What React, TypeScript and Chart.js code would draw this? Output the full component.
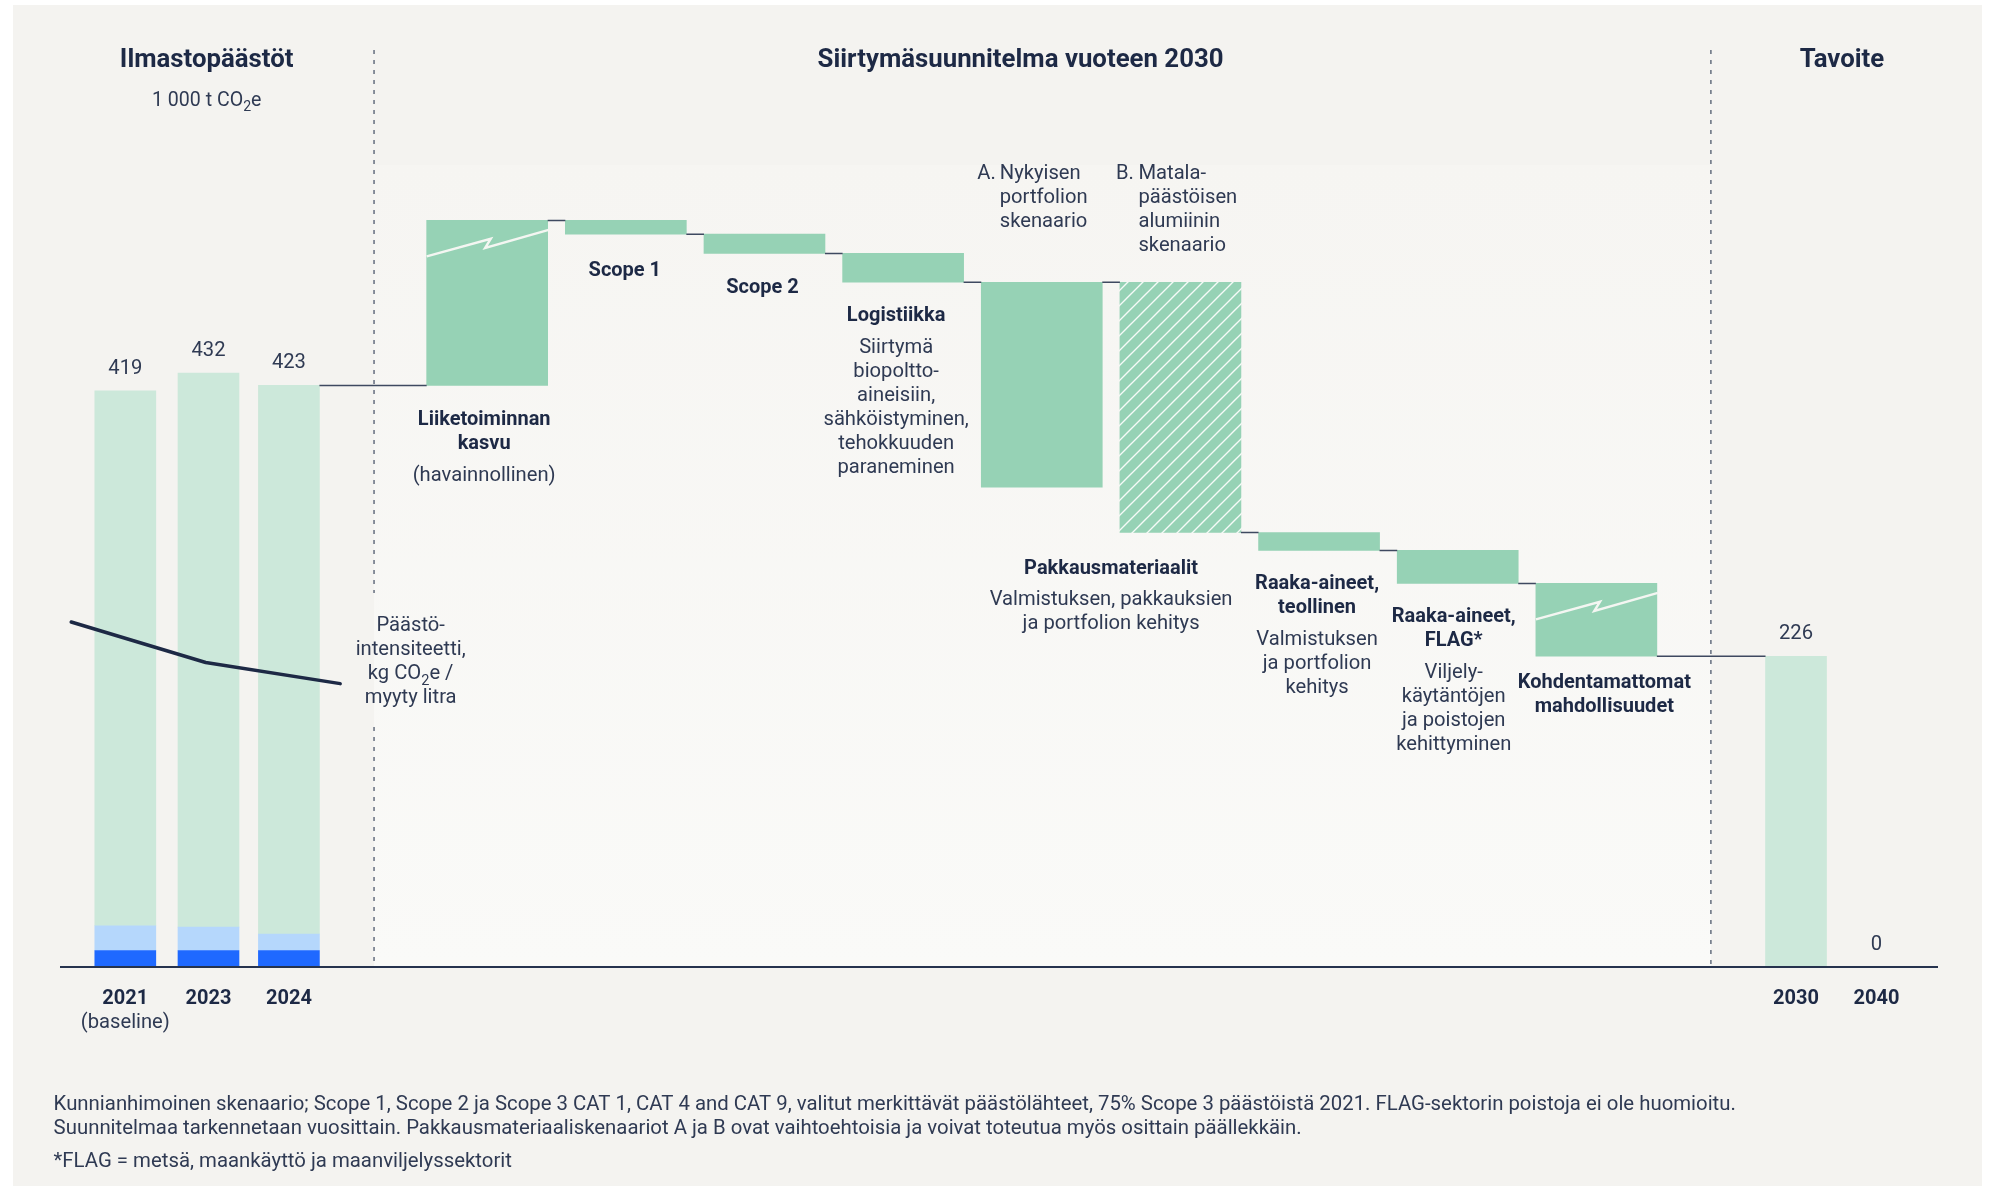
import React, { useEffect, useRef } from 'react';
import { Chart, registerables } from 'chart.js';

Chart.register(...registerables);

// ---------------- data ----------------
const historyYears = ['2021', '2023', '2024'];
const historyNotes = ['(baseline)', '', ''];
const historyScope1 = [12, 12, 12];
const historyScope2 = [18, 17, 12];
const historyScope3 = [389, 403, 399];
const intensityValues = [0.196, 0.173, 0.161];

const stepStart = 423;
const stepDeltas = [120, -10, -14, -21, -149, -182, -13, -24, -53];
const stepIsAlternative = [false, false, false, false, true, false, false, false, false];
const stepIsHatched = [false, false, false, false, false, true, false, false, false];
const stepIsBroken = [true, false, false, false, false, false, false, false, true];
const stepTitles = [
  ['Liiketoiminnan', 'kasvu'],
  ['Scope 1'],
  ['Scope 2'],
  ['Logistiikka'],
  [],
  [],
  ['Raaka-aineet,', 'teollinen'],
  ['Raaka-aineet,', 'FLAG*'],
  ['Kohdentamattomat', 'mahdollisuudet'],
];
const stepNotes = [
  ['(havainnollinen)'],
  [],
  [],
  ['Siirtymä', 'biopoltto-', 'aineisiin,', 'sähköistyminen,', 'tehokkuuden', 'paraneminen'],
  [],
  [],
  ['Valmistuksen', 'ja portfolion', 'kehitys'],
  ['Viljely-', 'käytäntöjen', 'ja poistojen', 'kehittyminen'],
  [],
];
const scenarioMarkers = ['A.', 'B.'];
const scenarioTexts = [
  ['Nykyisen', 'portfolion', 'skenaario'],
  ['Matala-', 'päästöisen', 'alumiinin', 'skenaario'],
];
const packagingTitle = ['Pakkausmateriaalit'];
const packagingNotes = ['Valmistuksen, pakkauksien', 'ja portfolion kehitys'];

const targetYears = ['2030', '2040'];
const targetValues = [226, 0];

const sectionTitles = ['Ilmastopäästöt', 'Siirtymäsuunnitelma vuoteen 2030', 'Tavoite'];
const unitLabel = ['1 000 t CO', '2', 'e'];
const intensityLabel = [['Päästö-'], ['intensiteetti,'], ['kg CO', '2', 'e /'], ['myyty litra']];
const footnotes = [
  'Kunnianhimoinen skenaario; Scope 1, Scope 2 ja Scope 3 CAT 1, CAT 4 and CAT 9, valitut merkittävät päästölähteet, 75% Scope 3 päästöistä 2021. FLAG-sektorin poistoja ei ole huomioitu.',
  'Suunnitelmaa tarkennetaan vuosittain. Pakkausmateriaaliskenaariot A ja B ovat vaihtoehtoisia ja voivat toteutua myös osittain päällekkäin.',
  '*FLAG = metsä, maankäyttö ja maanviljelyssektorit',
];

// ---------------- layout (scale units / px) ----------------
const X_MIN = -0.081;
const X_MAX = 13.464;
const Y_MAX = 640;
const INTENSITY_MAX = 0.5;
const historyX = [0.39, 0.99, 1.57];
const intensityX = [0, 0.97, 1.94];
const stepX = [3, 4, 5, 6, 7, 8, 9, 10, 11];
const targetX = [12.44, 13.02];
const dividerX = [2.184, 11.826];
const sectionTitleX = [0.977, 6.847, 12.771];
const intensityLabelX = 2.448;
const stepLabelDx = [-3, -1, -2, -7, 0, 0, -2, -4, 8];
const stepLabelDy = [40, 42, 40, 38.5, 0, 0, 38.5, 39, 32];

// ---------------- styles ----------------
const PANEL = '#f4f3f0';
const GREEN = '#96d2b5';
const LIGHT_GREEN = '#cce8da';
const LIGHT_BLUE = '#b5d7fc';
const BLUE = '#1f69ff';
const NAVY = '#1d2945';
const TEXT = '#2f3a53';
const FAMILY = 'Roboto, "Noto Sans", "DejaVu Sans", sans-serif';

function stepRanges() {
  let run = stepStart;
  return stepDeltas.map((d, i) => {
    const r = { from: run, to: run + d };
    if (!stepIsAlternative[i]) run += d;
    return r;
  });
}

function setFont(ctx: CanvasRenderingContext2D, weight: number, size: number) {
  ctx.font = `${weight} ${size.toFixed(2)}px ${FAMILY}`;
}
function fitSize(ctx: CanvasRenderingContext2D, text: string, weight: number, target: number) {
  setFont(ctx, weight, 20);
  return (20 * target) / ctx.measureText(text).width;
}
function drawText(
  ctx: CanvasRenderingContext2D,
  s: string,
  x: number,
  y: number,
  weight: number,
  size: number,
  color: string,
  align: CanvasTextAlign = 'center'
) {
  setFont(ctx, weight, size);
  ctx.fillStyle = color;
  ctx.textAlign = align;
  ctx.textBaseline = 'alphabetic';
  ctx.fillText(s, x, y);
}
function drawParts(
  ctx: CanvasRenderingContext2D,
  parts: string[],
  cx: number,
  baseline: number,
  weight: number,
  size: number,
  color: string
) {
  const sub = size * 0.72;
  const widths = parts.map((p, i) => {
    setFont(ctx, weight, i % 2 ? sub : size);
    return ctx.measureText(p).width;
  });
  const total = widths.reduce((a, b) => a + b, 0);
  let x = cx - total / 2;
  ctx.fillStyle = color;
  ctx.textAlign = 'left';
  ctx.textBaseline = 'alphabetic';
  parts.forEach((p, i) => {
    setFont(ctx, weight, i % 2 ? sub : size);
    ctx.fillText(p, x, baseline + (i % 2 ? size * 0.28 : 0));
    x += widths[i];
  });
}

function geo(el: any) {
  const p = el.getProps(['x', 'y', 'base', 'width'], true);
  return {
    cx: p.x,
    l: p.x - p.width / 2,
    r: p.x + p.width / 2,
    top: Math.min(p.y, p.base),
    bottom: Math.max(p.y, p.base),
  };
}

const decorPlugin = {
  id: 'decor',
  beforeDraw(chart: any) {
    const { ctx, scales } = chart;
    const xs = scales.x;
    const ys = scales.y;
    const y0 = ys.getPixelForValue(0);
    ctx.save();
    ctx.fillStyle = '#ffffff';
    ctx.fillRect(0, 0, chart.width, chart.height);
    ctx.fillStyle = PANEL;
    ctx.fillRect(13, 5, 1969, 1181);
    const d1 = xs.getPixelForValue(dividerX[0]);
    const d2 = xs.getPixelForValue(dividerX[1]);
    const g = ctx.createLinearGradient(0, 165, 0, y0);
    g.addColorStop(0, '#f6f5f2');
    g.addColorStop(1, '#fafaf8');
    ctx.fillStyle = g;
    ctx.fillRect(d1, 165, d2 - d1, y0 - 165);
    ctx.strokeStyle = '#646d7e';
    ctx.lineWidth = 1.5;
    ctx.setLineDash([4, 6]);
    ctx.beginPath();
    ctx.moveTo(d1, 50);
    ctx.lineTo(d1, 593);
    ctx.moveTo(d1, 727);
    ctx.lineTo(d1, y0);
    ctx.moveTo(d2, 50);
    ctx.lineTo(d2, y0);
    ctx.stroke();
    ctx.restore();
  },
  afterDatasetsDraw(chart: any) {
    const { ctx, scales, chartArea } = chart;
    const xs = scales.x;
    const ys = scales.y;
    const y0 = ys.getPixelForValue(0);
    const hist = chart.getDatasetMeta(3).data.map(geo);
    const steps = chart.getDatasetMeta(4).data.map(geo);
    const targets = chart.getDatasetMeta(5).data.map(geo);
    const ranges = stepRanges();
    ctx.save();

    // connectors
    const chain = [hist[hist.length - 1], ...steps, targets[0]];
    const levels = [stepStart, ...ranges.map((r, i) => (stepIsAlternative[i] ? r.from : r.to))];
    ctx.strokeStyle = '#3e4960';
    ctx.lineWidth = 1.5;
    ctx.beginPath();
    for (let i = 0; i < chain.length - 1; i++) {
      const ly = ys.getPixelForValue(levels[i]);
      ctx.moveTo(chain[i].r, ly);
      ctx.lineTo(chain[i + 1].l, ly);
    }
    ctx.stroke();

    // break symbols
    ctx.strokeStyle = '#f4f6f2';
    ctx.lineWidth = 2.5;
    ctx.lineJoin = 'miter';
    steps.forEach((b: any, i: number) => {
      if (!stepIsBroken[i]) return;
      ctx.beginPath();
      ctx.moveTo(b.l, b.top + 36);
      ctx.lineTo(b.l + 64, b.top + 18.5);
      ctx.lineTo(b.l + 58.5, b.top + 27.5);
      ctx.lineTo(b.r + 1, b.top + 9.5);
      ctx.stroke();
    });

    // axis
    ctx.strokeStyle = '#26334e';
    ctx.lineWidth = 2;
    ctx.beginPath();
    ctx.moveTo(chartArea.left, y0);
    ctx.lineTo(chartArea.right, y0);
    ctx.stroke();

    // font sizes calibrated on reference text widths
    const H = fitSize(ctx, sectionTitles[1], 700, 406);
    const B = fitSize(ctx, packagingTitle[0], 700, 174);
    const R = fitSize(ctx, packagingNotes[0], 400, 243);
    const F = fitSize(ctx, footnotes[0], 400, 1684);

    // section titles
    sectionTitles.forEach((t, i) => drawText(ctx, t, xs.getPixelForValue(sectionTitleX[i]), 66.7, 700, H, NAVY));
    drawParts(ctx, unitLabel, xs.getPixelForValue(sectionTitleX[0]), 106, 400, R * 0.97, TEXT);

    // history values & labels
    hist.forEach((b: any, i: number) => {
      const total = historyScope1[i] + historyScope2[i] + historyScope3[i];
      drawText(ctx, String(total), b.cx, b.top - 17, 400, R, TEXT);
      drawText(ctx, historyYears[i], b.cx, 1004.3, 700, B, NAVY);
      if (historyNotes[i]) drawText(ctx, historyNotes[i], b.cx, 1027.5, 400, R, TEXT);
    });
    targets.forEach((b: any, i: number) => {
      drawText(ctx, String(targetValues[i]), b.cx, b.top - 17, 400, R, TEXT);
      drawText(ctx, targetYears[i], b.cx, 1004.3, 700, B, NAVY);
    });

    // step labels
    steps.forEach((b: any, i: number) => {
      const titles = stepTitles[i];
      if (!titles.length) return;
      const cx = b.cx + stepLabelDx[i];
      let base = b.bottom + stepLabelDy[i];
      titles.forEach((t, k) => drawText(ctx, t, cx, base + k * 24, 700, B, NAVY));
      base += (titles.length - 1) * 24 + 32;
      stepNotes[i].forEach((t, k) => drawText(ctx, t, cx, base + k * 24, 400, R, TEXT));
    });

    // packaging (A/B) labels
    const altIdx = stepIsAlternative.indexOf(true);
    const A = steps[altIdx];
    const Bb = steps[altIdx + 1];
    const pcx = (A.cx + Bb.cx) / 2;
    const pBase = Bb.bottom + 41.3;
    packagingTitle.forEach((t, k) => drawText(ctx, t, pcx, pBase + k * 24, 700, B, NAVY));
    packagingNotes.forEach((t, k) => drawText(ctx, t, pcx, pBase + (packagingTitle.length - 1) * 24 + 31 + k * 24, 400, R, TEXT));
    [A, Bb].forEach((b: any, j: number) => {
      const top = b.top - 103;
      drawText(ctx, scenarioMarkers[j], b.l - 4, top, 400, R, TEXT, 'left');
      scenarioTexts[j].forEach((t, k) => drawText(ctx, t, b.l + 18.5, top + k * 24, 400, R, TEXT, 'left'));
    });

    // intensity label
    const ix = xs.getPixelForValue(intensityLabelX);
    intensityLabel.forEach((parts, k) => drawParts(ctx, parts, ix, 631 + k * 24, 400, R, TEXT));

    // footnotes
    drawText(ctx, footnotes[0], 53.6, 1110, 400, F, TEXT, 'left');
    drawText(ctx, footnotes[1], 53.6, 1134.3, 400, F, TEXT, 'left');
    drawText(ctx, footnotes[2], 53.6, 1166.7, 400, F, TEXT, 'left');

    ctx.restore();
  },
};

function makeHatch(ctx: CanvasRenderingContext2D) {
  const s = 15;
  const c = document.createElement('canvas');
  c.width = s;
  c.height = s;
  const g = c.getContext('2d') as CanvasRenderingContext2D;
  g.fillStyle = GREEN;
  g.fillRect(0, 0, s, s);
  g.strokeStyle = 'rgba(255,255,255,0.9)';
  g.lineWidth = 1.4;
  g.beginPath();
  g.moveTo(0, s);
  g.lineTo(s, 0);
  g.moveTo(-s / 2, s / 2);
  g.lineTo(s / 2, -s / 2);
  g.moveTo(s / 2, s * 1.5);
  g.lineTo(s * 1.5, s / 2);
  g.stroke();
  return ctx.createPattern(c, 'repeat') as CanvasPattern;
}

export default function App() {
  const ref = useRef<HTMLCanvasElement>(null);
  useEffect(() => {
    const canvas = ref.current as HTMLCanvasElement;
    const ctx = canvas.getContext('2d') as CanvasRenderingContext2D;
    const hatch = makeHatch(ctx);
    const ranges = stepRanges();
    const s12 = historyScope1.map((v, i) => v + historyScope2[i]);
    const totals = s12.map((v, i) => v + historyScope3[i]);
    const chart = new Chart(canvas, {
      type: 'bar',
      data: {
        datasets: [
          {
            type: 'line',
            label: 'Päästöintensiteetti',
            data: intensityX.map((xv, i) => ({ x: xv, y: intensityValues[i] })),
            yAxisID: 'y2',
            borderColor: NAVY,
            borderWidth: 3.5,
            pointRadius: 0,
            tension: 0,
            borderCapStyle: 'round',
            borderJoinStyle: 'round',
            order: -1,
          } as any,
          {
            label: 'Scope 1',
            data: historyX.map((xv, i) => ({ x: xv, y: [0, historyScope1[i]] })),
            backgroundColor: BLUE,
            barThickness: 61,
            grouped: false,
          } as any,
          {
            label: 'Scope 2',
            data: historyX.map((xv, i) => ({ x: xv, y: [historyScope1[i], s12[i]] })),
            backgroundColor: LIGHT_BLUE,
            barThickness: 61,
            grouped: false,
          } as any,
          {
            label: 'Scope 3',
            data: historyX.map((xv, i) => ({ x: xv, y: [s12[i], totals[i]] })),
            backgroundColor: LIGHT_GREEN,
            barThickness: 61,
            grouped: false,
          } as any,
          {
            label: 'Siirtymäsuunnitelma',
            data: stepX.map((xv, i) => ({ x: xv, y: [ranges[i].from, ranges[i].to] })),
            backgroundColor: stepIsHatched.map((h) => (h ? hatch : GREEN)),
            barThickness: 121,
            grouped: false,
          } as any,
          {
            label: 'Tavoite',
            data: targetX.map((xv, i) => ({ x: xv, y: [0, targetValues[i]] })),
            backgroundColor: LIGHT_GREEN,
            barThickness: 61,
            grouped: false,
          } as any,
        ],
      },
      options: {
        responsive: false,
        animation: false,
        devicePixelRatio: 1,
        events: [],
        layout: { padding: { left: 60, right: 61, top: 87, bottom: 224 } },
        plugins: { legend: { display: false }, tooltip: { enabled: false } },
        scales: {
          x: { type: 'linear', min: X_MIN, max: X_MAX, display: false, offset: false },
          y: { type: 'linear', min: 0, max: Y_MAX, display: false, stacked: false },
          y2: { type: 'linear', min: 0, max: INTENSITY_MAX, display: false },
        },
      } as any,
      plugins: [decorPlugin],
    });
    return () => chart.destroy();
  }, []);
  return (
    <div style={{ position: 'absolute', left: 0, top: 0, width: 1999, height: 1191 }}>
      <canvas ref={ref} width={1999} height={1191} style={{ display: 'block', width: 1999, height: 1191 }} />
    </div>
  );
}
